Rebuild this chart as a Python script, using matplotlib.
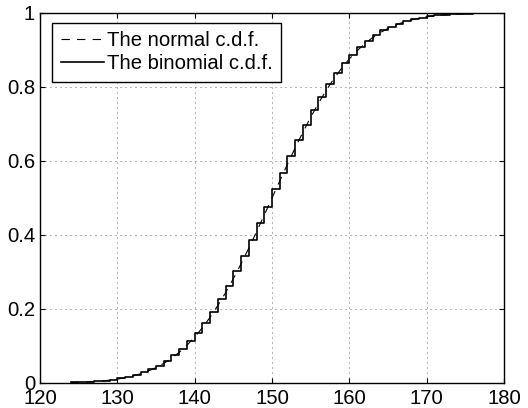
import matplotlib
matplotlib.use("Agg")
import matplotlib.pyplot as plt

plt.rcParams['font.family'] = ['Liberation Sans', 'DejaVu Sans']

# integer grid 124..176
x_vals = list(range(124, 177))

# normal c.d.f. read at each integer
normal_cdf = [0.0013, 0.0019, 0.0028, 0.0040, 0.0055, 0.0077, 0.0105, 0.0141, 0.0188,
              0.0248, 0.0323, 0.0416, 0.0530, 0.0667, 0.0829, 0.1020, 0.1241, 0.1493,
              0.1778, 0.2094, 0.2442, 0.2819, 0.3221, 0.3645, 0.4087, 0.4540, 0.5000,
              0.5460, 0.5913, 0.6355, 0.6779, 0.7181, 0.7558, 0.7906, 0.8222, 0.8507,
              0.8759, 0.8980, 0.9171, 0.9333, 0.9470, 0.9584, 0.9677, 0.9752, 0.9812,
              0.9859, 0.9895, 0.9923, 0.9945, 0.9960, 0.9972, 0.9981, 0.9987]

# binomial c.d.f. step heights
binom_cdf = [0.0016, 0.0023, 0.0033, 0.0047, 0.0065, 0.0090, 0.0122, 0.0163, 0.0217,
             0.0284, 0.0367, 0.0470, 0.0595, 0.0745, 0.0921, 0.1127, 0.1363, 0.1632,
             0.1932, 0.2265, 0.2627, 0.3017, 0.3431, 0.3864, 0.4312, 0.4770, 0.5230,
             0.5688, 0.6136, 0.6569, 0.6983, 0.7373, 0.7735, 0.8068, 0.8368, 0.8637,
             0.8873, 0.9079, 0.9255, 0.9405, 0.9530, 0.9633, 0.9716, 0.9783, 0.9837,
             0.9878, 0.9910, 0.9935, 0.9953, 0.9967, 0.9977, 0.9984, 0.9989]

xticks = [120, 130, 140, 150, 160, 170, 180]
yticks = [0, 0.2, 0.4, 0.6, 0.8, 1]
ytick_labels = ['0', '0.2', '0.4', '0.6', '0.8', '1']

fs = 14.6

fig = plt.figure(figsize=(5.28, 4.08), dpi=100)
ax = fig.add_axes([40 / 528, 1 - 383 / 408, 464 / 528, 370 / 408])

ax.plot(x_vals, normal_cdf, color='black', ls=(0, (7.5, 6.5)), lw=0.8, label='The normal c.d.f.')
ax.step(x_vals, binom_cdf, where='post', color='black', lw=1.2, label='The binomial c.d.f.')

ax.set_xlim(120, 180)
ax.set_ylim(0, 1)
ax.set_xticks(xticks)
ax.set_yticks(yticks)
ax.set_yticklabels(ytick_labels)
ax.tick_params(axis='both', direction='in', length=3.6, width=0.8, top=True, right=True,
               labelsize=fs)
ax.tick_params(axis='y', pad=3.5)
ax.tick_params(axis='x', pad=4.5)
ax.grid(True, color='#555555', ls=(0, (1.2, 4.8)), lw=0.6)
for s in ax.spines.values():
    s.set_linewidth(1.0)

leg = ax.legend(loc='upper left', bbox_to_anchor=(12 / 464, 1 - 9.5 / 370), fontsize=fs,
                frameon=True, fancybox=False, framealpha=1, edgecolor='black',
                handlelength=2.15, handletextpad=0.15, borderpad=0.42, labelspacing=0.2,
                borderaxespad=0)
leg.get_frame().set_linewidth(1.0)

fig.savefig('out.png', dpi=100)
